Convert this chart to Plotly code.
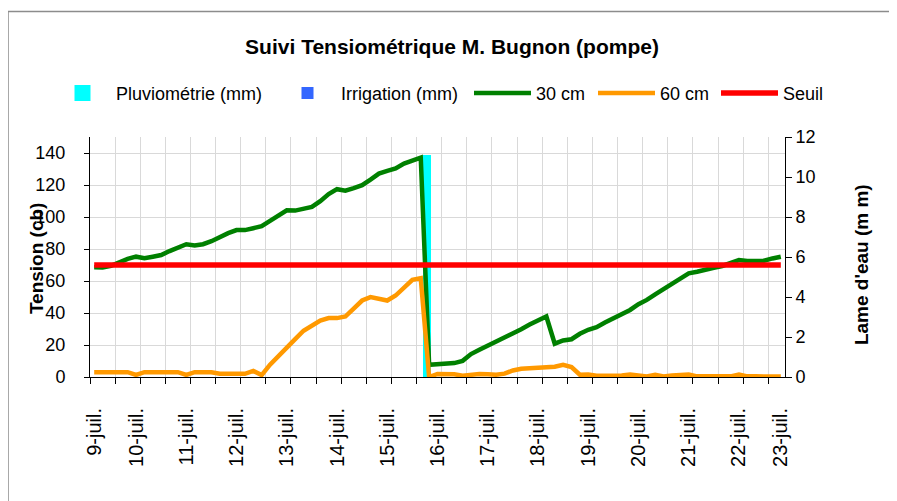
import plotly.graph_objects as go

# ---------------- data ----------------
day_labels = ["9-juil.", "10-juil.", "11-juil.", "12-juil.", "13-juil.", "14-juil.", "15-juil.",
              "16-juil.", "17-juil.", "18-juil.", "19-juil.", "20-juil.", "21-juil.", "22-juil.", "23-juil."]
label_index = [0, 5, 11, 17, 23, 29, 35, 41, 47, 53, 59, 65, 71, 77, 82]

tension_30cm = [68.6, 68.4, 69.5, 71.8, 73.8, 75.2, 74.2, 75.2, 76.2, 78.7,
                81.0, 83.0, 82.2, 83.0, 84.9, 87.6, 89.9, 91.8, 91.8, 93.0,
                94.3, 97.6, 101.1, 104.2, 104.0, 104.9, 106.3, 109.9, 114.3, 117.4,
                116.5, 118.0, 119.9, 123.4, 127.1, 128.8, 130.3, 133.4, 135.2, 137.1,
                7.6, 8.1, 8.5, 8.7, 10.1, 14.3, 17.0, 19.5, 22.0, 24.3,
                26.8, 29.9, 32.8, 35.7, 37.8, 20.8, 22.8, 23.6, 27.0, 29.5,
                31.1, 34.0, 36.8, 39.4, 41.9, 45.5, 48.2, 51.7, 54.8, 58.4,
                61.5, 64.8, 65.8, 66.7, 68.3, 69.4, 71.0, 73.1, 72.5, 72.5,
                72.7, 74.1, 75.2]

tension_60cm = [3.0, 3.0, 3.0, 3.0, 3.0, 1.3, 3.0, 3.0, 3.0, 3.0,
                3.0, 1.3, 3.0, 3.0, 3.0, 2.0, 2.0, 2.0, 2.0, 3.8,
                1.2, 7.7, 13.3, 18.5, 23.7, 28.9, 32.0, 35.3, 36.8, 36.8,
                37.8, 43.0, 47.8, 49.9, 48.9, 47.8, 50.9, 55.9, 60.7, 61.7,
                0.0, 1.9, 1.9, 1.7, 0.8, 1.7, 1.9, 1.7, 1.4, 2.1,
                4.1, 5.2, 5.6, 5.8, 6.0, 6.4, 7.6, 6.2, 1.4, 1.5,
                0.8, 0.8, 0.8, 1.0, 1.6, 1.0, 0.3, 1.4, 0.3, 1.0,
                1.6, 1.6, 0.4, 0.4, 0.4, 0.4, 0.4, 1.6, 0.4, 0.4,
                0.4, 0.4, 0.3]

pluviometrie_mm = [0] * 40 + [11] + [0] * 42
irrigation_mm = [0] * 83
seuil_value = 70

n = len(tension_30cm)
x = list(range(n))
seuil = [seuil_value] * n
pluvio_plot = [v if v > 0 else None for v in pluviometrie_mm]

FONT = "Liberation Sans, Arial, sans-serif"
GRID = "#d9d9d9"

# the page body has an 8px margin: work in screen pixels and convert
OFF = 8
W, H = 897 - OFF, 501 - OFF
scr_l, scr_r, scr_t, scr_b = 90, 785, 136.5, 377.3
plot_l, plot_r, plot_t, plot_b = scr_l - OFF, scr_r - OFF, scr_t - OFF, scr_b - OFF
pw, ph = plot_r - plot_l, plot_b - plot_t


def px_x(p):  # screen px -> paper
    return (p - OFF - plot_l) / pw


def px_y(p):
    return (plot_b - (p - OFF)) / ph


fig = go.Figure()

# columns on the right axis (y)
fig.add_trace(go.Bar(x=x, y=pluvio_plot, name="Pluviométrie (mm)", yaxis="y",
                     marker=dict(color="#00FFFF", line=dict(color="#00FFFF", width=4)),
                     legend="legend"))
fig.add_trace(go.Bar(x=x, y=irrigation_mm, name="Irrigation (mm)", yaxis="y",
                     marker=dict(color="#3366FF", line=dict(width=0)),
                     legend="legend2"))

# lines on the left axis (y2)
fig.add_trace(go.Scatter(x=x, y=tension_30cm, name="30 cm", yaxis="y2", mode="lines",
                         line=dict(color="#008000", width=4.5), legend="legend3"))
fig.add_trace(go.Scatter(x=x, y=tension_60cm, name="60 cm", yaxis="y2", mode="lines",
                         line=dict(color="#FF9900", width=4.5), legend="legend4"))
fig.add_trace(go.Scatter(x=x, y=seuil, name="Seuil", yaxis="y2", mode="lines",
                         line=dict(color="#FF0000", width=5.5), legend="legend5"))

minor_ticks = [-0.5 + 3 * k for k in range(0, 28)]

ITEMW = 57
leg_common = dict(orientation="h", yanchor="middle", xanchor="left", itemwidth=ITEMW,
                  bgcolor="rgba(0,0,0,0)", font=dict(family=FONT, size=18, color="black"),
                  y=px_y(92.7))
text_starts = [117, 342, 537, 661, 784]
legs = {}
for i, ts in enumerate(text_starts):
    key = "legend" if i == 0 else f"legend{i+1}"
    legs[key] = dict(leg_common, x=px_x(ts - 41 - (ITEMW - 30)))

fig.update_layout(
    width=W, height=H,
    margin=dict(l=plot_l, r=W - plot_r, t=plot_t, b=H - plot_b, autoexpand=False),
    paper_bgcolor="white", plot_bgcolor="white",
    barmode="group", bargap=0, bargroupgap=0,
    showlegend=True,
    font=dict(family=FONT, color="black"),
    title=dict(text="Suivi Tensiométrique M. Bugnon (pompe)", x=(452 - OFF) / W, xanchor="center",
               y=1 - (46.7 - OFF) / H, yanchor="middle",
               font=dict(family=FONT, size=21, color="black", weight="bold")),
    xaxis=dict(range=[-0.5, n - 0.5], tickmode="array", tickvals=label_index, ticktext=day_labels,
               tickangle=-90, ticks="", showgrid=False, zeroline=False,
               showline=True, linecolor="black", linewidth=1,
               tickfont=dict(family=FONT, size=20, color="black"), ticklabelstandoff=22,
               minor=dict(tickvals=minor_ticks, ticks="outside", ticklen=6, tickcolor="black",
                          tickwidth=1, showgrid=True, gridcolor=GRID, gridwidth=1)),
    yaxis=dict(side="right", range=[0, 12], tickmode="linear", tick0=0, dtick=2,
               showgrid=False, zeroline=False, showline=True, linecolor="black", linewidth=1,
               ticks="outside", ticklen=6, tickcolor="black",
               tickfont=dict(family=FONT, size=18, color="black")),
    yaxis2=dict(side="left", overlaying="y", range=[0, 150], tickmode="array",
                tickvals=[0, 20, 40, 60, 80, 100, 120, 140],
                showgrid=True, gridcolor=GRID, gridwidth=1, zeroline=False,
                showline=True, linecolor="black", linewidth=1,
                ticks="outside", ticklen=5, tickcolor="black", ticklabelstandoff=15,
                tickfont=dict(family=FONT, size=18, color="black")),
    annotations=[
        dict(text="<b>Tension (cb)</b>", xref="paper", yref="paper", x=px_x(36), y=px_y(258),
             xanchor="center", yanchor="middle", textangle=-90, showarrow=False,
             font=dict(family=FONT, size=19, color="black")),
        dict(text="<b>Lame d'eau (m m)</b>", xref="paper", yref="paper", x=px_x(861), y=px_y(264),
             xanchor="center", yanchor="middle", textangle=-90, showarrow=False,
             font=dict(family=FONT, size=19, color="black")),
    ],
    shapes=[dict(type="rect", xref="paper", yref="paper", x0=px_x(8), x1=px_x(915),
                 y0=px_y(520), y1=px_y(10.5), line=dict(color="#8c8c8c", width=1.5),
                 fillcolor="rgba(0,0,0,0)", layer="below")],
    **legs,
)

fig.write_html("out.html")
